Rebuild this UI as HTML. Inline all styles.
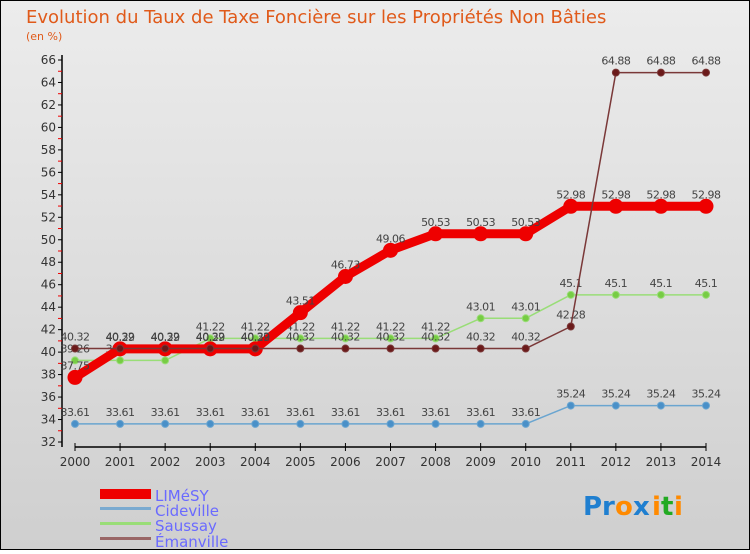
<!DOCTYPE html>
<html><head><meta charset="utf-8">
<style>
html,body{margin:0;padding:0}
body{width:750px;height:550px;overflow:hidden;font-family:"DejaVu Sans","Liberation Sans",sans-serif}
svg text{font-family:"DejaVu Sans","Liberation Sans",sans-serif}
</style></head>
<body>
<svg id="chart" width="750" height="550" xmlns="http://www.w3.org/2000/svg">
<defs>
<linearGradient id="bg" x1="0" y1="0" x2="0" y2="1">
<stop offset="0" stop-color="#ececec"/><stop offset="1" stop-color="#cfcfcf"/>
</linearGradient>
</defs>
<rect x="0.5" y="0.5" width="749" height="549" fill="url(#bg)" stroke="#000"/>
<text x="26" y="23" font-size="18" fill="#e05a1a">Evolution du Taux de Taxe Foncière sur les Propriétés Non Bâties</text>
<text x="26" y="40" font-size="11" fill="#e05a1a">(en %)</text>
<g id="axes"></g>
<g id="series"></g>
<g id="legend">
<rect x="100" y="489" width="51" height="10" fill="#ee0000"/>
<text x="155" y="501" font-size="15" fill="#6a6aff">LIMéSY</text>
<rect x="100" y="507" width="51" height="3" fill="#7aaad0"/>
<text x="155" y="516" font-size="15" fill="#6a6aff">Cideville</text>
<rect x="100" y="522" width="51" height="3" fill="#99dd77"/>
<text x="155" y="531" font-size="15" fill="#6a6aff">Saussay</text>
<rect x="100" y="537" width="51" height="3" fill="#996666"/>
<text x="155" y="547" font-size="15" fill="#6a6aff">Émanville</text>
</g>
<g font-size="26" font-weight="bold">
<text x="583" y="515" fill="#1f7fd0">Pr</text><text x="615" y="515" fill="#ff8a00">o</text><text x="633" y="515" fill="#1f7fd0">x</text><text x="652" y="515" fill="#ff8a00">i</text><text x="661" y="515" fill="#22aa22">t</text><text x="674" y="515" fill="#ff8a00">i</text>
</g>
</svg>
<script>
const years=[2000,2001,2002,2003,2004,2005,2006,2007,2008,2009,2010,2011,2012,2013,2014];
const limesy=[37.75,40.29,40.29,40.29,40.29,43.51,46.73,49.06,50.53,50.53,50.53,52.98,52.98,52.98,52.98];
const cideville=[33.61,33.61,33.61,33.61,33.61,33.61,33.61,33.61,33.61,33.61,33.61,35.24,35.24,35.24,35.24];
const saussay=[39.26,39.26,39.26,41.22,41.22,41.22,41.22,41.22,41.22,43.01,43.01,45.1,45.1,45.1,45.1];
const emanville=[40.32,40.32,40.32,40.32,40.32,40.32,40.32,40.32,40.32,40.32,40.32,42.28,64.88,64.88,64.88];
const yTicks=[32,34,36,38,40,42,44,46,48,50,52,54,56,58,60,62,64,66];
const NS="http://www.w3.org/2000/svg";
const X0=75,X1=706,Y0=442,Y1=60,YMIN=32,YMAX=66;
function xs(i){return X0+(X1-X0)*i/(years.length-1);}
function ys(v){return Y0-(Y0-Y1)*(v-YMIN)/(YMAX-YMIN);}
function mk(tag,attrs,parent){const e=document.createElementNS(NS,tag);for(const k in attrs)e.setAttribute(k,attrs[k]);parent.appendChild(e);return e;}
const axes=document.getElementById('axes');
let ya=mk('line',{x1:62,y1:55,x2:62,y2:447,stroke:'#000','stroke-width':1.5},axes);


let xa=mk('line',{x1:75,y1:447,x2:706,y2:447,stroke:'#000','stroke-width':1.5},axes);


yTicks.forEach(t=>{
  const y=ys(t);
  mk('line',{x1:58,y1:y,x2:62,y2:y,stroke:'#000'},axes);
  if(t<YMAX){const ym=ys(t+1);mk('line',{x1:58,y1:ym,x2:62,y2:ym,stroke:'#e00'},axes);}
  const tx=mk('text',{x:56,y:y+4,'font-size':12,'text-anchor':'end',fill:'#333'},axes);
  tx.textContent=t;
  
  
});
years.forEach((yr,i)=>{
  const x=xs(i);
  mk('line',{x1:x,y1:443,x2:x,y2:451,stroke:'#000'},axes);
  const tx=mk('text',{x:x,y:466,'font-size':12,'text-anchor':'middle',fill:'#333'},axes);
  tx.textContent=yr;
  
  
});
const ser=document.getElementById('series');
function draw(name,vals,color,w,r,dot){
  const g=mk('g',{},ser);
  
  
  const p=mk('polyline',{points:vals.map((v,i)=>xs(i)+','+ys(v)).join(' '),fill:'none',stroke:color,'stroke-width':w,'stroke-linejoin':'round'},g);
  
  
  vals.forEach((v,i)=>{
    const c=mk('circle',{cx:xs(i),cy:ys(v),r:r,fill:dot,stroke:color,'stroke-width':1},g);
    
    
    const t=mk('text',{x:xs(i),y:ys(v)-8,'font-size':11,'text-anchor':'middle',fill:'#444','letter-spacing':'-0.5'},g);
    t.textContent=String(v);
    
    
  });
}
draw('cideville',cideville,'#6aa5d0',1.5,3.5,'#4a90c8');
draw('saussay',saussay,'#99dd77',1.5,3.5,'#77cc44');
draw('limesy',limesy,'#ee0000',9,7,'#ee0000');
draw('emanville',emanville,'#7a3838',1.5,3.5,'#6b1a1a');
</script>
</body></html>
